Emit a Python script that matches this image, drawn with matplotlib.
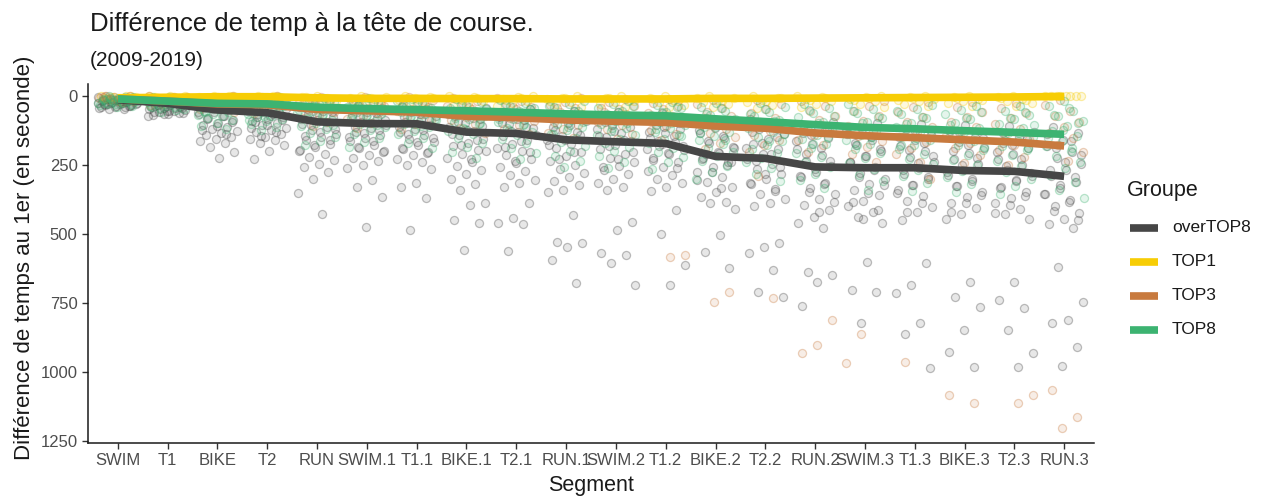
import matplotlib
matplotlib.use("Agg")
import matplotlib.pyplot as plt
from matplotlib.lines import Line2D
import numpy as np

plt.rcParams['font.family'] = ['Liberation Sans', 'DejaVu Sans']

cats = ['SWIM', 'T1', 'BIKE', 'T2', 'RUN', 'SWIM.1', 'T1.1', 'BIKE.1', 'T2.1', 'RUN.1',
        'SWIM.2', 'T1.2', 'BIKE.2', 'T2.2', 'RUN.2', 'SWIM.3', 'T1.3', 'BIKE.3', 'T2.3', 'RUN.3']

groups = ['overTOP8', 'TOP1', 'TOP3', 'TOP8']

# group lines (time gap to leader, seconds)
line_over = [15, 28, 52, 62, 95, 101, 102, 132, 137, 160, 167, 173, 220, 227, 258, 261, 261, 271, 274, 292]
line_top1 = [8, 6, 4, 4, 8, 10, 10, 11, 11, 12, 12, 12, 10, 10, 9, 8, 7, 6, 5, 3]
line_top3 = [12, 20, 30, 33, 50, 55, 60, 75, 80, 88, 93, 97, 110, 118, 135, 145, 152, 160, 168, 182]
line_top8 = [12, 20, 28, 30, 42, 47, 51, 55, 60, 66, 70, 73, 84, 94, 105, 115, 120, 127, 133, 140]

# individual athletes, per segment
pts_top1 = [
    [0, 2, 4, 6, 8, 10, 3, 5],
    [0, 3, 6, 9, 12, 2, 5, 8],
    [0, 3, 6, 10, 14, 2, 8, 18],
    [0, 3, 7, 11, 15, 2, 9, 20],
    [0, 4, 8, 14, 20, 28, 6, 12],
    [0, 5, 10, 16, 22, 30, 8, 14],
    [0, 5, 10, 17, 24, 32, 8, 14],
    [0, 6, 12, 19, 27, 36, 9, 16],
    [0, 6, 13, 20, 28, 38, 10, 17],
    [0, 7, 14, 22, 30, 40, 10, 18],
    [0, 7, 15, 23, 32, 42, 10, 19],
    [0, 8, 16, 24, 33, 43, 11, 20],
    [0, 7, 15, 23, 32, 42, 10, 19],
    [0, 7, 15, 24, 33, 44, 10, 19],
    [0, 6, 13, 21, 30, 40, 9, 17],
    [0, 6, 13, 21, 30, 40, 9, 17],
    [0, 6, 12, 20, 29, 39, 9, 16],
    [0, 5, 12, 19, 28, 38, 8, 15],
    [0, 5, 12, 19, 28, 38, 8, 15],
    [0, 0, 0, 0, 0, 0, 0, 0],
]
pts_top3 = [
    [0, 3, 6, 9, 12, 15, 18, 21, 5, 8, 11, 14, 24, 2],
    [2, 6, 10, 14, 18, 22, 26, 30, 4, 8, 12, 16, 20, 35],
    [0, 5, 10, 15, 20, 25, 30, 35, 40, 45, 50, 12, 28, 60],
    [0, 6, 12, 18, 24, 30, 36, 42, 48, 54, 14, 30, 62, 8],
    [5, 12, 20, 28, 36, 44, 52, 60, 70, 80, 95, 110, 30, 48],
    [5, 14, 22, 30, 38, 46, 55, 64, 74, 85, 100, 118, 32, 50],
    [6, 15, 23, 31, 40, 48, 57, 66, 76, 88, 102, 120, 34, 52],
    [8, 18, 28, 38, 48, 58, 68, 78, 90, 102, 118, 135, 40, 60],
    [10, 20, 30, 40, 50, 60, 70, 80, 92, 105, 120, 140, 42, 62],
    [10, 22, 34, 46, 58, 70, 82, 94, 106, 120, 136, 155, 45, 66],
    [12, 24, 36, 48, 60, 72, 84, 96, 108, 122, 138, 158, 46, 68],
    [12, 25, 38, 50, 62, 74, 86, 98, 110, 124, 140, 160, 577, 583],
    [15, 30, 45, 60, 75, 90, 105, 120, 135, 150, 170, 195, 710, 746],
    [16, 32, 48, 64, 80, 96, 112, 128, 144, 160, 180, 205, 734, 290],
    [18, 36, 54, 72, 90, 108, 126, 144, 162, 180, 205, 812, 903, 933],
    [20, 38, 56, 74, 92, 110, 128, 146, 165, 185, 210, 240, 861, 969],
    [22, 40, 58, 76, 94, 112, 130, 148, 168, 188, 212, 240, 963, 300],
    [24, 42, 60, 78, 96, 114, 132, 150, 170, 190, 215, 245, 1084, 1114],
    [25, 44, 63, 82, 101, 120, 139, 158, 178, 198, 222, 250, 1084, 1114],
    [15, 35, 55, 75, 95, 115, 135, 155, 180, 205, 235, 1066, 1162, 1204],
]
pts_top8 = [
    [2, 5, 8, 11, 14, 17, 20, 23, 26, 29, 32, 35, 4, 7, 10, 13, 16, 19, 22, 25, 28, 31, 38, 42],
    [4, 8, 12, 16, 20, 24, 28, 32, 36, 40, 44, 48, 6, 10, 14, 18, 22, 26, 30, 34, 38, 42, 52, 58],
    [5, 10, 15, 20, 25, 30, 35, 40, 45, 50, 55, 60, 65, 70, 75, 80, 90, 100, 110, 120, 12, 28, 42, 58],
    [6, 12, 18, 24, 30, 36, 42, 48, 54, 60, 66, 72, 78, 84, 92, 102, 112, 125, 14, 30, 45, 60, 75, 88],
    [8, 16, 24, 32, 40, 48, 56, 64, 72, 80, 90, 100, 110, 120, 135, 150, 165, 180, 20, 36, 52, 68, 85, 105],
    [10, 18, 26, 34, 42, 50, 58, 66, 74, 82, 92, 102, 112, 124, 138, 152, 168, 185, 22, 38, 55, 70, 88, 108],
    [12, 20, 28, 36, 44, 52, 60, 68, 76, 84, 94, 104, 115, 127, 140, 155, 170, 188, 24, 40, 57, 72, 90, 110],
    [14, 24, 34, 44, 54, 64, 74, 84, 94, 104, 116, 128, 140, 155, 170, 186, 204, 225, 30, 48, 66, 82, 100, 122],
    [16, 26, 36, 46, 56, 66, 76, 86, 96, 106, 118, 130, 142, 157, 172, 188, 206, 228, 32, 50, 68, 85, 102, 125],
    [18, 30, 42, 54, 66, 78, 90, 102, 114, 126, 140, 154, 168, 184, 200, 218, 238, 260, 36, 56, 75, 95, 115, 140],
    [20, 32, 44, 56, 68, 80, 92, 104, 116, 128, 142, 156, 170, 186, 202, 220, 240, 262, 38, 58, 78, 98, 118, 142],
    [22, 34, 46, 58, 70, 82, 94, 106, 118, 130, 144, 158, 172, 188, 204, 222, 242, 264, 40, 60, 80, 100, 120, 145],
    [25, 40, 55, 70, 85, 100, 115, 130, 145, 160, 175, 190, 205, 220, 238, 256, 276, 300, 45, 65, 90, 112, 135, 160],
    [28, 43, 58, 73, 88, 103, 118, 133, 148, 163, 178, 193, 208, 224, 242, 262, 284, 310, 48, 68, 92, 115, 140, 165],
    [30, 46, 62, 78, 94, 110, 126, 142, 158, 174, 190, 206, 222, 240, 260, 282, 306, 334, 52, 74, 98, 122, 148, 175],
    [32, 48, 64, 80, 96, 112, 128, 144, 160, 176, 192, 208, 225, 244, 264, 286, 310, 340, 54, 76, 100, 125, 150, 178],
    [34, 50, 66, 82, 98, 114, 130, 146, 162, 178, 194, 210, 228, 248, 268, 290, 315, 345, 56, 78, 102, 128, 152, 180],
    [36, 52, 68, 84, 100, 116, 132, 148, 164, 180, 196, 214, 232, 252, 272, 295, 320, 350, 58, 80, 105, 130, 156, 185],
    [38, 54, 70, 86, 102, 118, 134, 150, 166, 182, 198, 216, 235, 255, 276, 300, 326, 356, 60, 82, 108, 134, 160, 190],
    [20, 38, 56, 74, 92, 110, 128, 146, 164, 182, 200, 220, 240, 262, 286, 312, 340, 372, 45, 70, 98, 126, 155, 188],
]
pts_over = [
    [5, 8, 11, 14, 17, 20, 23, 26, 29, 32, 35, 38, 41, 44, 47, 50, 10, 13, 16, 19, 22, 25, 28, 31, 34, 37, 40, 43, 12, 18, 24, 30, 36, 15, 27, 21],
    [10, 14, 18, 22, 26, 30, 34, 38, 42, 46, 50, 54, 58, 62, 66, 70, 12, 16, 20, 24, 28, 32, 36, 40, 44, 48, 52, 56, 60, 64, 68, 75, 25, 35, 45, 55],
    [15, 22, 30, 38, 45, 52, 60, 68, 75, 82, 90, 98, 105, 112, 120, 128, 135, 142, 150, 158, 165, 173, 185, 203, 227, 25, 35, 48, 58, 72, 85, 95, 110, 125, 140, 40],
    [20, 28, 36, 44, 52, 60, 68, 76, 84, 92, 100, 108, 116, 124, 132, 140, 148, 156, 161, 170, 180, 200, 231, 30, 42, 55, 65, 78, 90, 105, 118, 130, 145, 50, 72, 96],
    [30, 42, 54, 66, 78, 90, 102, 114, 126, 138, 150, 162, 174, 186, 198, 210, 222, 234, 246, 258, 276, 300, 354, 429, 48, 60, 72, 84, 96, 108, 120, 132, 145, 160, 180, 200],
    [35, 46, 58, 70, 82, 94, 106, 118, 130, 142, 154, 166, 178, 190, 202, 214, 226, 238, 250, 262, 306, 330, 366, 475, 52, 64, 76, 88, 100, 112, 124, 136, 150, 165, 185, 205],
    [38, 48, 60, 72, 84, 96, 108, 120, 132, 144, 156, 168, 180, 192, 204, 216, 228, 240, 252, 264, 318, 330, 372, 487, 55, 66, 78, 90, 102, 114, 126, 138, 152, 168, 188, 208],
    [45, 58, 72, 86, 100, 114, 128, 142, 156, 170, 184, 198, 212, 226, 240, 254, 268, 284, 300, 320, 340, 390, 396, 450, 460, 557, 65, 80, 95, 110, 125, 140, 160, 180, 200, 230],
    [48, 62, 76, 90, 104, 118, 132, 146, 160, 174, 188, 202, 216, 230, 244, 258, 272, 288, 305, 318, 330, 390, 444, 462, 465, 562, 68, 84, 98, 112, 128, 144, 165, 185, 205, 235],
    [55, 70, 85, 100, 115, 130, 145, 160, 175, 190, 205, 220, 235, 250, 265, 280, 295, 310, 325, 340, 350, 432, 529, 535, 547, 595, 677, 75, 92, 108, 125, 142, 160, 180, 205, 230],
    [60, 75, 90, 105, 120, 135, 150, 165, 180, 195, 210, 225, 240, 255, 270, 285, 300, 315, 330, 340, 456, 486, 571, 575, 607, 686, 80, 96, 112, 128, 145, 162, 182, 205, 230, 260],
    [62, 77, 92, 107, 122, 137, 152, 167, 182, 197, 212, 227, 242, 257, 272, 287, 302, 317, 332, 345, 414, 499, 613, 686, 82, 98, 114, 130, 147, 164, 184, 207, 232, 262, 175, 195],
    [80, 98, 116, 134, 152, 170, 188, 206, 224, 242, 260, 278, 296, 314, 332, 350, 368, 386, 390, 410, 505, 565, 625, 105, 125, 145, 165, 185, 205, 228, 252, 278, 305, 335, 210, 240],
    [85, 103, 121, 139, 157, 175, 193, 211, 229, 247, 265, 283, 301, 319, 337, 355, 373, 390, 400, 535, 547, 571, 631, 710, 728, 110, 130, 150, 170, 190, 212, 235, 258, 285, 315, 345],
    [95, 115, 135, 155, 175, 195, 215, 235, 255, 275, 295, 315, 335, 355, 375, 395, 415, 440, 460, 480, 637, 650, 674, 762, 120, 142, 165, 188, 212, 238, 265, 292, 320, 350, 385, 420],
    [100, 120, 140, 160, 180, 200, 220, 240, 260, 280, 300, 320, 340, 360, 380, 400, 420, 440, 460, 601, 704, 710, 824, 125, 148, 170, 195, 218, 242, 268, 295, 322, 352, 385, 415, 445],
    [102, 122, 142, 162, 182, 202, 222, 242, 262, 282, 302, 322, 342, 362, 382, 402, 422, 450, 607, 686, 716, 824, 861, 987, 128, 150, 172, 196, 220, 245, 270, 296, 324, 354, 388, 420],
    [108, 128, 148, 168, 188, 208, 228, 248, 268, 288, 308, 328, 348, 368, 388, 408, 428, 448, 674, 728, 764, 849, 927, 981, 132, 155, 178, 202, 226, 250, 275, 300, 328, 358, 390, 420],
    [110, 130, 150, 170, 190, 210, 230, 250, 270, 290, 310, 330, 350, 370, 390, 410, 430, 445, 674, 740, 770, 849, 933, 981, 135, 158, 180, 205, 230, 255, 280, 306, 334, 364, 395, 425],
    [115, 137, 159, 181, 203, 225, 247, 269, 291, 313, 335, 357, 379, 401, 423, 445, 465, 480, 619, 746, 812, 824, 909, 979, 140, 165, 190, 215, 240, 268, 296, 325, 355, 385, 418, 450],
]

colors = {'overTOP8': '#464646', 'TOP1': '#F7CD05', 'TOP3': '#C87A3E', 'TOP8': '#3CB371'}
pts = {'overTOP8': pts_over, 'TOP1': pts_top1, 'TOP3': pts_top3, 'TOP8': pts_top8}
lines = {'overTOP8': line_over, 'TOP1': line_top1, 'TOP3': line_top3, 'TOP8': line_top8}

W, H = 1262, 497
fig = plt.figure(figsize=(W / 100, H / 100), dpi=100)
ax = fig.add_axes([88 / W, 1 - 443 / H, (1094 - 88) / W, (443 - 84) / H])

xpos = np.arange(1, len(cats) + 1)
golden = 0.6180339887
for gi, g in enumerate(groups):
    xs, ys = [], []
    for ci, vals in enumerate(pts[g]):
        for k, v in enumerate(vals):
            seed = k + 11 * gi + 3 * ci
            off = ((seed * golden + 0.29 * gi) % 1.0 - 0.5) * 0.8
            xs.append(xpos[ci] + off)
            ys.append(v)
    rgb = matplotlib.colors.to_rgb(colors[g])
    ax.scatter(xs, ys, s=34, facecolor=(*rgb, 0.13), edgecolor=(*rgb, 0.34),
               linewidths=0.9, zorder=2)

for g in groups:
    ax.plot(xpos, lines[g], color=colors[g], linewidth=5.5, solid_capstyle='butt',
            solid_joinstyle='round', zorder=3)

ax.set_xlim(0.4, len(cats) + 0.6)
ax.set_ylim(1257, -42)
ax.set_yticks([0, 250, 500, 750, 1000, 1250])
ax.set_xticks(xpos)
ax.set_xticklabels(cats)
ax.tick_params(axis='both', colors='#333333', labelcolor='#4D4D4D', labelsize=12,
               length=4, width=1)
for s in ['top', 'right']:
    ax.spines[s].set_visible(False)
for s in ['left', 'bottom']:
    ax.spines[s].set_linewidth(1.1)
    ax.spines[s].set_color('#1a1a1a')

fig.text(90 / W, 1 - 24 / H, 'Différence de temp à la tête de course.', fontsize=18.5,
         va='center', ha='left', color='#1a1a1a')
fig.text(90 / W, 1 - 60 / H, '(2009-2019)', fontsize=15, va='center', ha='left', color='#1a1a1a')
fig.text(25 / W, 1 - 258 / H, 'Différence de temps au 1er (en seconde)', fontsize=16,
         rotation=90, va='center', ha='center', color='#1a1a1a')
fig.text(591 / W, 1 - 485 / H, 'Segment', fontsize=15.5, va='center', ha='center', color='#1a1a1a')

# legend
fig.text(1127 / W, 1 - 190 / H, 'Groupe', fontsize=15.5, va='center', ha='left', color='#1a1a1a')
for i, g in enumerate(groups):
    yy = 1 - (228 + i * 34) / H
    fig.add_artist(Line2D([1130 / W, 1158 / W], [yy, yy], color=colors[g], linewidth=5.5,
                          solid_capstyle='butt', transform=fig.transFigure))
    fig.text(1172 / W, yy, g, fontsize=12.5, va='center', ha='left', color='#1a1a1a')

fig.savefig('out.png', dpi=100)
